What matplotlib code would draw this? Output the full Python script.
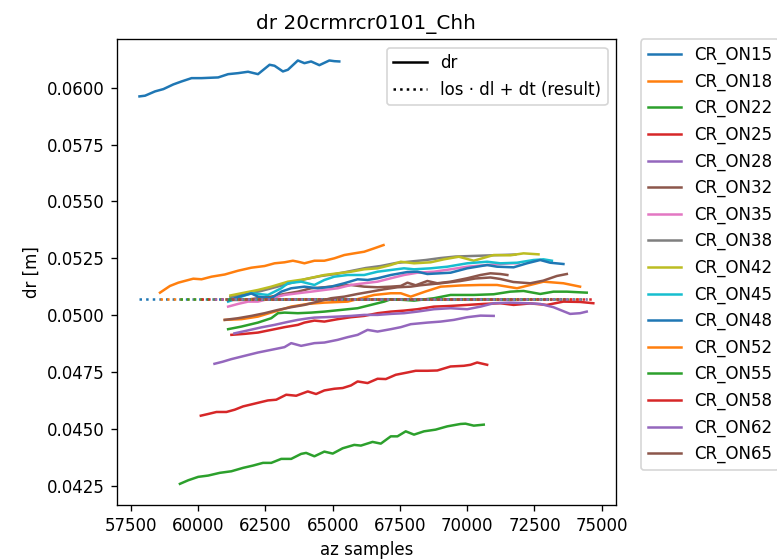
import matplotlib
matplotlib.use("Agg")
import matplotlib.pyplot as plt
from matplotlib.lines import Line2D

# Corner-reflector dr time series (azimuth sample vs. range offset in metres)
cr_names = ["CR_ON15", "CR_ON18", "CR_ON22", "CR_ON25", "CR_ON28", "CR_ON32",
            "CR_ON35", "CR_ON38", "CR_ON42", "CR_ON45", "CR_ON48", "CR_ON52",
            "CR_ON55", "CR_ON58", "CR_ON62", "CR_ON65"]

# fitted model value los·dl + dt
result_dr = 0.05072

az_on15 = [57815, 58022, 58393, 58704, 59074, 59381, 59752, 60122, 60741, 61111, 61481, 61852,
           62222, 62652, 62837, 63148, 63333, 63704, 63948, 64196, 64504, 64874, 65059, 65244]
dr_on15 = [0.059618, 0.059649, 0.059838, 0.059939, 0.060145, 0.060276, 0.060421, 0.060421,
           0.060452, 0.060596, 0.060640, 0.060702, 0.060596, 0.061009, 0.060965, 0.060715,
           0.060789, 0.061197, 0.061079, 0.061154, 0.060991, 0.061197, 0.061167, 0.061154]

az_on18 = [58578, 58948, 59259, 59815, 60122, 60493, 60985, 61481, 61974, 62467, 62837, 63207,
           63519, 63704, 63948, 64319, 64689, 65059, 65430, 65800, 66170, 66541, 66889]
dr_on18 = [0.050991, 0.051285, 0.051430, 0.051605, 0.051579, 0.051693, 0.051789, 0.051956,
           0.052088, 0.052162, 0.052281, 0.052325, 0.052395, 0.052351, 0.052281, 0.052395,
           0.052395, 0.052500, 0.052645, 0.052719, 0.052790, 0.052939, 0.053083]

az_on22 = [59319, 59630, 60000, 60370, 60800, 61233, 61667, 62037, 62407, 62715, 63085, 63456,
           63826, 64011, 64319, 64689, 65000, 65370, 65800, 66048, 66481, 66789, 67159, 67407,
           67715, 68022, 68393, 68826, 69259, 69752, 69937, 70244, 70615]
dr_on22 = [0.042587, 0.042745, 0.042894, 0.042951, 0.043070, 0.043140, 0.043289, 0.043390,
           0.043509, 0.043509, 0.043684, 0.043684, 0.043904, 0.043947, 0.043798, 0.044004,
           0.043917, 0.044150, 0.044299, 0.044268, 0.044430, 0.044355, 0.044675, 0.044675,
           0.044895, 0.044750, 0.044895, 0.044970, 0.045114, 0.045219, 0.045232, 0.045145,
           0.045189]

az_on25 = [60096, 60370, 60678, 61048, 61356, 61667, 62037, 62344, 62593, 62900, 63270, 63641,
           64074, 64381, 64689, 65059, 65370, 65678, 65926, 66296, 66667, 66974, 67344, 67778,
           68085, 68519, 68889, 69381, 69874, 70122, 70370, 70741]
dr_on25 = [0.045583, 0.045658, 0.045746, 0.045746, 0.045846, 0.045991, 0.046096, 0.046184,
           0.046254, 0.046285, 0.046504, 0.046460, 0.046649, 0.046535, 0.046693, 0.046767,
           0.046798, 0.046912, 0.047088, 0.047017, 0.047206, 0.047193, 0.047381, 0.047482,
           0.047557, 0.047557, 0.047570, 0.047746, 0.047776, 0.047820, 0.047921, 0.047820]

az_on28 = [60604, 60900, 61233, 61726, 62222, 62715, 63207, 63456, 63826, 64319, 64689, 65185,
           65556, 65926, 66296, 66667, 67159, 67530, 67900, 68519, 69011, 69504, 70000, 70493,
           70985]
dr_on28 = [0.047864, 0.047952, 0.048070, 0.048215, 0.048360, 0.048478, 0.048596, 0.048772,
           0.048653, 0.048772, 0.048798, 0.048917, 0.049035, 0.049136, 0.049355, 0.049281,
           0.049386, 0.049474, 0.049605, 0.049675, 0.049719, 0.049794, 0.049912, 0.049982,
           0.049969]

az_on32 = [61233, 61726, 62222, 62715, 63207, 63704, 64196, 64689, 65185, 65678, 66170, 66667,
           67159, 67530, 67778, 68085, 68519, 68889, 69382, 70000, 70493, 70864, 71233, 71493]
dr_on32 = [0.050671, 0.050671, 0.050746, 0.050816, 0.050934, 0.051035, 0.051184, 0.051228,
           0.051285, 0.051329, 0.051255, 0.051228, 0.051255, 0.051285, 0.051430, 0.051316,
           0.051504, 0.051404, 0.051474, 0.051623, 0.051767, 0.051842, 0.051811, 0.051767]

az_on35 = [61111, 61481, 61852, 62222, 62715, 63207, 63704, 64196, 64689, 65185, 65678, 66170,
           66667, 67159, 67652, 68148, 68763, 69382, 70000, 70741, 71604, 71911]
dr_on35 = [0.050378, 0.050496, 0.050597, 0.050597, 0.050746, 0.050890, 0.050965, 0.051035,
           0.051110, 0.051184, 0.051329, 0.051404, 0.051474, 0.051623, 0.051767, 0.051868,
           0.051912, 0.052017, 0.052132, 0.052206, 0.052281, 0.052281]

az_on38 = [61196, 61789, 62344, 62900, 63456, 64011, 64567, 65122, 65678, 66233, 66789, 67344,
           67900, 68456, 69011, 69567, 70122, 70678, 71233, 71789]
dr_on38 = [0.050799, 0.050934, 0.051066, 0.051241, 0.051417, 0.051592, 0.051724, 0.051812,
           0.051943, 0.052075, 0.052163, 0.052294, 0.052360, 0.052425, 0.052513, 0.052579,
           0.052601, 0.052623, 0.052645, 0.052667]

az_on42 = [61196, 61604, 62222, 62715, 63333, 63948, 64689, 65185, 65678, 66170, 66667, 67159,
           67530, 68022, 68641, 69133, 69689, 70244, 70985, 71604, 72096, 72652]
dr_on42 = [0.050868, 0.050965, 0.051110, 0.051254, 0.051474, 0.051579, 0.051767, 0.051842,
           0.051912, 0.052017, 0.052061, 0.052206, 0.052351, 0.052281, 0.052325, 0.052456,
           0.052570, 0.052395, 0.052645, 0.052632, 0.052719, 0.052675]

az_on45 = [61111, 61604, 61974, 62593, 63085, 63333, 63826, 64319, 64689, 65059, 65556, 66170,
           66667, 67159, 67652, 68022, 68641, 69259, 70000, 70741, 71233, 71852, 72467, 72837,
           73148]
dr_on45 = [0.050597, 0.050816, 0.050965, 0.050890, 0.051184, 0.051404, 0.051474, 0.051329,
           0.051548, 0.051693, 0.051767, 0.051767, 0.051912, 0.051987, 0.052061, 0.052017,
           0.052061, 0.052132, 0.052281, 0.052351, 0.052281, 0.052307, 0.052426, 0.052456,
           0.052395]

az_on48 = [61111, 61604, 61974, 62222, 62715, 63085, 63456, 63948, 64444, 64937, 65430, 65926,
           66296, 66667, 67159, 67778, 68148, 68519, 69382, 70000, 70741, 71111, 71726, 72222,
           72715, 73085, 73578]
dr_on48 = [0.050649, 0.050846, 0.050956, 0.050816, 0.050746, 0.051035, 0.051184, 0.051255,
           0.051184, 0.051255, 0.051404, 0.051579, 0.051548, 0.051623, 0.051767, 0.051899,
           0.051912, 0.051811, 0.051868, 0.052061, 0.052206, 0.052132, 0.052105, 0.052281,
           0.052426, 0.052307, 0.052250]

az_on52 = [60985, 61604, 62222, 62837, 63456, 64074, 64689, 65556, 65800, 66541, 67159, 67530,
           67900, 68456, 69011, 69752, 70493, 71111, 71852, 72345, 72837, 73578, 74196]
dr_on52 = [0.049794, 0.049825, 0.049939, 0.050158, 0.050378, 0.050496, 0.050553, 0.050597,
           0.050671, 0.050890, 0.050965, 0.050965, 0.050816, 0.051044, 0.051254, 0.051307,
           0.051329, 0.051329, 0.051184, 0.051329, 0.051474, 0.051404, 0.051255]

az_on55 = [61111, 61604, 62222, 62715, 62963, 63207, 63704, 64196, 64689, 65307, 65926, 66419,
           66911, 67159, 67652, 68022, 68763, 69382, 70244, 70985, 71604, 72096, 72715, 73208,
           73704, 74444]
dr_on55 = [0.049386, 0.049500, 0.049676, 0.049868, 0.050088, 0.050114, 0.050088, 0.050114,
           0.050158, 0.050232, 0.050307, 0.050452, 0.050597, 0.050702, 0.050671, 0.050640,
           0.050746, 0.050890, 0.050890, 0.050921, 0.051035, 0.051066, 0.050934, 0.051035,
           0.051035, 0.050991]

az_on58 = [61233, 61726, 62222, 62715, 63207, 63704, 63948, 64319, 64689, 65185, 65678, 66170,
           66667, 67159, 67652, 68148, 68763, 69382, 70000, 70615, 71233, 71726, 72345, 72963,
           73578, 74196, 74689]
dr_on58 = [0.049136, 0.049180, 0.049237, 0.049355, 0.049474, 0.049575, 0.049675, 0.049763,
           0.049719, 0.049825, 0.049912, 0.049969, 0.050088, 0.050158, 0.050202, 0.050263,
           0.050377, 0.050408, 0.050452, 0.050496, 0.050526, 0.050452, 0.050518, 0.050452,
           0.050597, 0.050583, 0.050526]

az_on62 = [61344, 61852, 62344, 62837, 63333, 63704, 64074, 64319, 64689, 65185, 65678, 66170,
           66667, 67159, 67652, 68148, 68763, 69382, 70000, 70493, 70985, 71604, 72222, 72715,
           73208, 73826, 74196, 74444]
dr_on62 = [0.049201, 0.049333, 0.049465, 0.049575, 0.049706, 0.049794, 0.049860, 0.049895,
           0.049912, 0.049939, 0.049969, 0.050013, 0.050013, 0.050057, 0.050088, 0.050158,
           0.050263, 0.050307, 0.050263, 0.050377, 0.050526, 0.050553, 0.050526, 0.050496,
           0.050351, 0.050057, 0.050088, 0.050158]

az_on65 = [60985, 61481, 61974, 62467, 62963, 63456, 63948, 64444, 64937, 65430, 65926, 66419,
           66911, 67407, 67900, 68259, 69011, 69752, 70307, 70864, 71233, 71715, 72345, 72826,
           73333, 73704]
dr_on65 = [0.049794, 0.049868, 0.049969, 0.050088, 0.050232, 0.050351, 0.050452, 0.050597,
           0.050746, 0.050816, 0.050934, 0.051035, 0.051140, 0.051228, 0.051255, 0.051316,
           0.051404, 0.051504, 0.051614, 0.051658, 0.051592, 0.051460, 0.051404, 0.051518,
           0.051724, 0.051811]

series = [
    (az_on15, dr_on15), (az_on18, dr_on18), (az_on22, dr_on22), (az_on25, dr_on25),
    (az_on28, dr_on28), (az_on32, dr_on32), (az_on35, dr_on35), (az_on38, dr_on38),
    (az_on42, dr_on42), (az_on45, dr_on45), (az_on48, dr_on48), (az_on52, dr_on52),
    (az_on55, dr_on55), (az_on58, dr_on58), (az_on62, dr_on62), (az_on65, dr_on65),
]

fig = plt.figure(figsize=(777 / 120, 560 / 120), dpi=120)
ax = fig.add_axes([0.1503, 0.0982, 0.6425, 0.8316])

colors = plt.rcParams["axes.prop_cycle"].by_key()["color"]
for i, (name, (az, dr)) in enumerate(zip(cr_names, series)):
    c = colors[i % len(colors)]
    ax.plot(az, dr, color=c, label=name)
    ax.plot([min(az), max(az)], [result_dr, result_dr], color=c, linestyle=":")

ax.set_title("dr 20crmrcr0101_Chh")
ax.set_xlabel("az samples")
ax.set_ylabel("dr [m]")

style_handles = [Line2D([], [], color="black", linestyle="-"),
                 Line2D([], [], color="black", linestyle=":")]
style_legend = ax.legend(style_handles, ["dr", "los \u00b7 dl + dt (result)"], loc="upper right")
ax.add_artist(style_legend)

cr_handles = [Line2D([], [], color=colors[i % len(colors)]) for i in range(len(cr_names))]
ax.legend(cr_handles, cr_names, bbox_to_anchor=(1.05, 1), loc="upper left", borderaxespad=0.0)

fig.savefig("out.png", dpi=120)
